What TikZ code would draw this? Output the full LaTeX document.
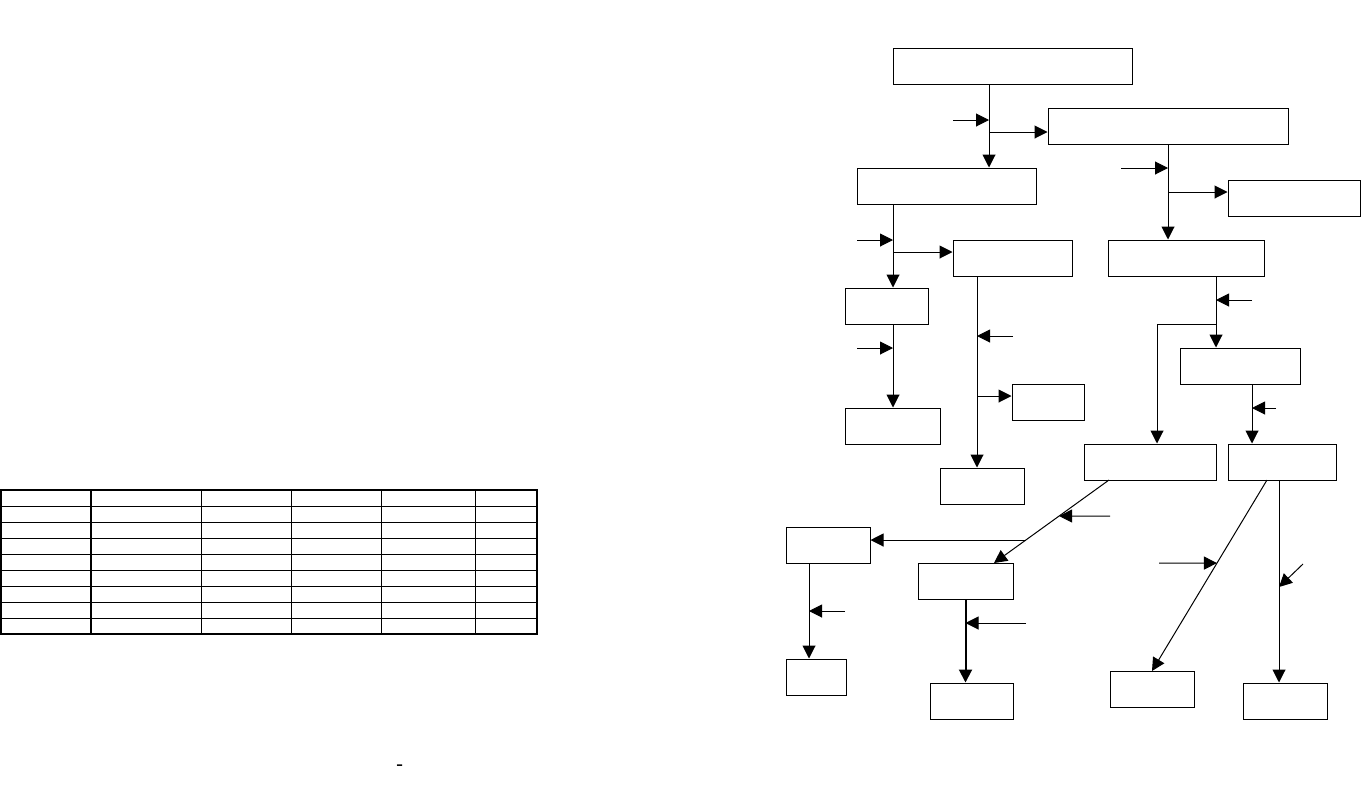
\documentclass[tikz,border=0pt]{standalone}
\usetikzlibrary{arrows.meta}
\begin{document}
\begin{tikzpicture}[x = 1pt, y = -1pt,
		box/.style = {draw, line width = 1pt, minimum height = 36, inner sep = 0pt},
		flow/.style = {line width = 1pt, -{Triangle[length = 13pt, width = 13pt]}},
		link/.style = {line width = 1pt}]
	\useasboundingbox (0,0) rectangle (1361,804);
	% table on the left
	\def\tl{1} \def\tr{537} \def\tt{490} \def\tb{634}
	\foreach \c in {201, 291, 381, 475}
	\draw[line width = 1pt] (\c, \tt)--(\c, \tb);
	\foreach \r in {506, 522, ..., 618}
	\draw[line width = 1pt] (\tl, \r)--(\tr, \r);
	\draw[line width = 1.8pt] (91, \tt)--(91, \tb);
	\draw[line width = 1.8pt] (\tl, \tt) rectangle (\tr, \tb);
	\node[font = \LARGE\bfseries, inner sep = 0pt] (dash) at (400, 767) {-};
	% boxes of the chart
	\foreach \n/\x/\y/\w in {a/1012.5/66/239, b/1168/126/240, c/946.5/186/179, d/1294/198/132,
		e/1012.5/258/119, f/1186/258/156, g/886.5/306/83, h/892.5/426/95, i/982/486/84,
		j/1048/402/72, k/1240/366/120, l/1150/462/132, m/1282/462/108, n/965.5/581/95,
		o/828/545/84, p/816/677/60, q/971.5/701/83, r/1152/689/84, s/1285/701/84}
	\node[box, minimum width = \w] (\n) at (\x, \y) {};
	% junctions and free ends
	\coordinate (j1) at (989, 132); \coordinate (f1) at (953, 120);
	\coordinate (j2) at (1168, 192); \coordinate (f2) at (1121, 168);
	\coordinate (j3) at (893, 252); \coordinate (f3) at (857, 240);
	\coordinate (f4) at (857, 348);
	\coordinate (j4) at (977, 396); \coordinate (f5) at (1013, 336);
	\coordinate (j5) at (1216, 324); \coordinate (j6) at (1157, 324); \coordinate (f6) at (1252, 300);
	\coordinate (j7) at (1252, 408); \coordinate (f7) at (1276, 408);
	\coordinate (l1) at (1109, 480); \coordinate (n1) at (994, 563); \coordinate (f8) at (1110, 516);
	\coordinate (m1) at (1267, 480); \coordinate (r1) at (1152, 671); \coordinate (f9) at (1159, 563);
	\coordinate (j8) at (1279, 587); \coordinate (f10) at (1303, 564);
	\coordinate (j9) at (809, 611); \coordinate (f11) at (845, 611); \coordinate (f12) at (1026, 623);
	% connectors
	\draw[flow] (a.south -| j1)--(c.north -| j1);
	\draw[flow] (j1)--(b.west |- j1);
	\draw[flow] (f1)--(f1 -| j1);
	\draw[flow] (b.south -| j2)--(f.north -| j2);
	\draw[flow] (j2)--(d.west |- j2);
	\draw[flow] (f2)--(f2 -| j2);
	\draw[flow] (c.south -| j3)--(g.north -| j3);
	\draw[flow] (j3)--(e.west |- j3);
	\draw[flow] (f3)--(f3 -| j3);
	\draw[flow] (g.south -| j3)--(h.north -| j3);
	\draw[flow] (f4)--(f4 -| j3);
	\draw[flow] (e.south -| j4)--(i.north -| j4);
	\draw[flow] (j4)--(j.west |- j4);
	\draw[flow] (f5)--(f5 -| j4);
	\draw[flow] (f.south -| j5)--(k.north -| j5);
	\draw[flow] (j5)--(j6)--(l.north -| j6);
	\draw[flow] (f6)--(f6 -| j5);
	\draw[flow] (k.south -| j7)--(m.north -| j7);
	\draw[flow] (f7)--(j7);
	\draw[flow] (l1)--coordinate[pos = .434] (k1) coordinate[pos = .723] (k2) (n1);
	\draw[flow] (f8)--(k1);
	\draw[flow] (k2)--(o.east |- k2);
	\draw[flow] (m1)--coordinate[pos = .435] (k3) (r1);
	\draw[flow] (f9)--(k3);
	\draw[flow] (m.south -| j8)--(s.north -| j8);
	\draw[flow] (f10)--(j8);
	\draw[flow] (o.south -| j9)--(p.north -| j9);
	\draw[flow] (f11)--(j9);
	\draw[flow, line width = 2pt] (n.south)--(n.south |- q.north);
	\draw[flow] (f12)--(f12 -| n.south);
\end{tikzpicture}
\end{document}
